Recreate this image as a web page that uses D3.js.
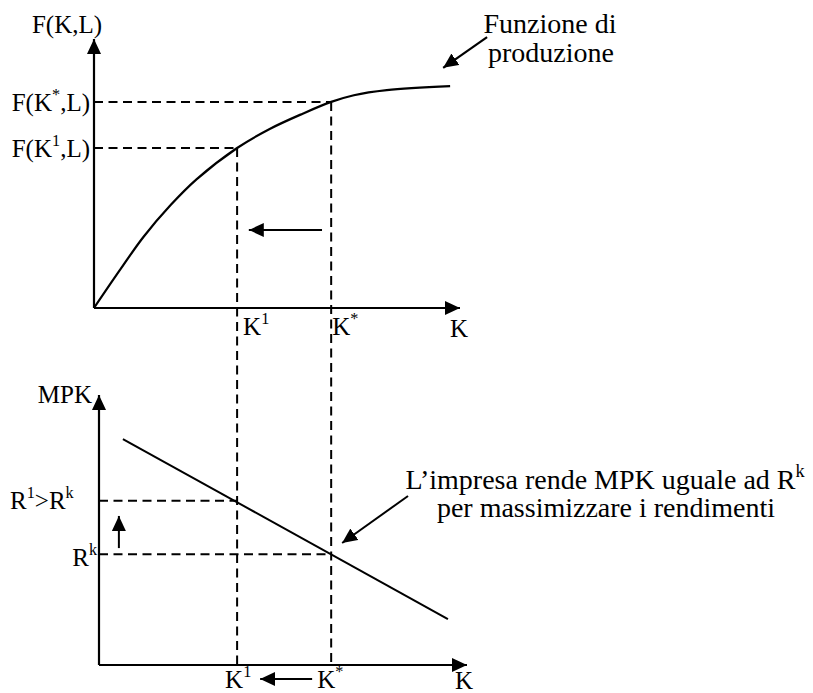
<!DOCTYPE html>
<html>
<head>
<meta charset="utf-8">
<script src="https://cdn.jsdelivr.net/npm/d3@7"></script>
<style>
  html, body { margin: 0; padding: 0; background: #fff; }
  svg { display: block; }
</style>
</head>
<body>
<svg id="chart" width="813" height="693"></svg>
<script>
// ---------- DATA ----------
// Production function F(K,L) sampled along K
const prodK = [0, 7, 13.5, 21, 28, 39.1, 48, 57, 64.8, 71, 80, 97.3];
const prodF = [0, 14, 26.5, 38.5, 48, 59.7, 66.8, 72.5, 76.9, 79.4, 81.3, 82.8];
// Marked capital levels: K^1 and K^*
const kMarks = [39.1, 64.8];
const fAtMarks = [59.7, 76.9];
const kLabelsParts = [[["K", false], ["1", true]], [["K", false], ["*", true]]];
const fLabelsParts = [
  [["F(K", false], ["1", true], [",L)", false]],
  [["F(K", false], ["*", true], [",L)", false]]
];
// Marginal product of capital (straight line)
const mpkK = [7.9, 96.7];
const mpkV = [83.7, 17.0];
// Rental rates R^1 (at K^1) and R^k (at K^*)
const rLevels = [60.8, 41.0];
const rLabelsParts = [
  [["R", false], ["1", true], [">R", false], ["k", true]],
  [["R", false], ["k", true]]
];
// Annotation texts
const topNote = ["Funzione di", "produzione"];
const bottomNote = [[["L’impresa rende MPK uguale ad R", false], ["k", true]],
                    [["per massimizzare i rendimenti", false]]];

// ---------- LAYOUT ----------
const FONT = "'Liberation Serif', 'Times New Roman', Times, 'DejaVu Serif', serif";
const svg = d3.select("#chart");
const x = d3.scaleLinear().domain([0, 100]).range([94, 460]);
const yTop = d3.scaleLinear().domain([0, 100]).range([308, 40]);
const yBot = d3.scaleLinear().domain([0, 100]).range([665, 395]);
const botAxisX = 99, botAxisEnd = 467;
const labelSize = 25, noteSize = 28;

const defs = svg.append("defs");
defs.append("marker").attr("id", "ah")
  .attr("viewBox", "0 0 15 14").attr("refX", 15).attr("refY", 7)
  .attr("markerWidth", 15).attr("markerHeight", 14)
  .attr("markerUnits", "userSpaceOnUse").attr("orient", "auto")
  .append("path").attr("d", "M0,0 L15,7 L0,14 Z").attr("fill", "#000");

function arrow(x1, y1, x2, y2, w) {
  svg.append("line").attr("x1", x1).attr("y1", y1).attr("x2", x2).attr("y2", y2)
    .attr("stroke", "#000").attr("stroke-width", w || 2)
    .attr("marker-end", "url(#ah)");
}
function dashed(x1, y1, x2, y2) {
  svg.append("line").attr("x1", x1).attr("y1", y1).attr("x2", x2).attr("y2", y2)
    .attr("stroke", "#000").attr("stroke-width", 2)
    .attr("stroke-dasharray", "9,5.5");
}
function rich(px, py, parts, anchor, size) {
  const t = svg.append("text").attr("x", px).attr("y", py)
    .attr("text-anchor", anchor).attr("font-size", size)
    .attr("font-family", FONT).attr("fill", "#000");
  let raised = false;
  const sh = Math.round(size * 0.42);
  parts.forEach(([s, sup]) => {
    const ts = t.append("tspan").text(s);
    if (sup && !raised) { ts.attr("dy", -sh).attr("font-size", size * 0.65); raised = true; }
    else if (!sup && raised) { ts.attr("dy", sh); raised = false; }
    else if (sup) ts.attr("font-size", size * 0.65);
  });
  return t;
}

// ---------- TOP PANEL ----------
arrow(x(0), yTop(0), x(0), yTop(100) - 1, 2.2);
arrow(x(0), yTop(0), x(100), yTop(0), 2.2);
rich(67, 33, [["F(K,L)", false]], "middle", labelSize);
rich(450, 337, [["K", false]], "start", labelSize);

kMarks.forEach((k, i) => {
  dashed(x(0), yTop(fAtMarks[i]), x(k), yTop(fAtMarks[i]));
  dashed(x(k), yTop(fAtMarks[i]), x(k), yBot(0));
});
fLabelsParts.forEach((p, i) => {
  rich(x(0) - 4, yTop(fAtMarks[i]) + 9, p, "end", labelSize);
});
const kTopDx = [6, 1];
kLabelsParts.forEach((p, i) => rich(x(kMarks[i]) + kTopDx[i], 335, p, "start", labelSize));

const prodLine = d3.line().x(d => x(d[0])).y(d => yTop(d[1])).curve(d3.curveCatmullRom);
svg.append("path").datum(d3.zip(prodK, prodF)).attr("d", prodLine)
  .attr("fill", "none").attr("stroke", "#000").attr("stroke-width", 2.2);

arrow(x(62.3), yTop(29.1), x(42.3), yTop(29.1), 2);

rich(550, 33, [[topNote[0], false]], "middle", noteSize);
rich(551, 62, [[topNote[1], false]], "middle", noteSize);
arrow(x(107.4), yTop(101.1), x(95.4), yTop(89.6), 2.2);

// ---------- BOTTOM PANEL ----------
arrow(botAxisX, yBot(0), botAxisX, yBot(100), 2.2);
arrow(botAxisX, yBot(0), botAxisEnd, yBot(0), 2.2);
rich(92, 403, [["MPK", false]], "end", labelSize);
rich(455, 689, [["K", false]], "start", labelSize);

const mpkLine = d3.line().x(d => x(d[0])).y(d => yBot(d[1]));
svg.append("path").datum(d3.zip(mpkK, mpkV)).attr("d", mpkLine)
  .attr("fill", "none").attr("stroke", "#000").attr("stroke-width", 2);

rLevels.forEach((r, i) => dashed(botAxisX, yBot(r), x(kMarks[i]), yBot(r)));
const rLabelDy = [8, 12];
const rLabelX = [10, 97];
rLabelsParts.forEach((p, i) => rich(rLabelX[i], yBot(rLevels[i]) + rLabelDy[i], p, i === 0 ? "start" : "end", labelSize));

arrow(x(6.8), yBot(43.3), x(6.8), yBot(55.2), 2);

const kBotDx = [-12, -14];
kLabelsParts.forEach((p, i) => rich(x(kMarks[i]) + kBotDx[i], 688, p, "start", labelSize));
arrow(x(59.6), 679, x(45.4), 679, 2);

rich(605, 489, bottomNote[0], "middle", noteSize);
rich(606, 517, bottomNote[1], "middle", noteSize);
arrow(x(85.8), yBot(62.6), x(67.8), yBot(45.2), 2);
</script>
</body>
</html>
